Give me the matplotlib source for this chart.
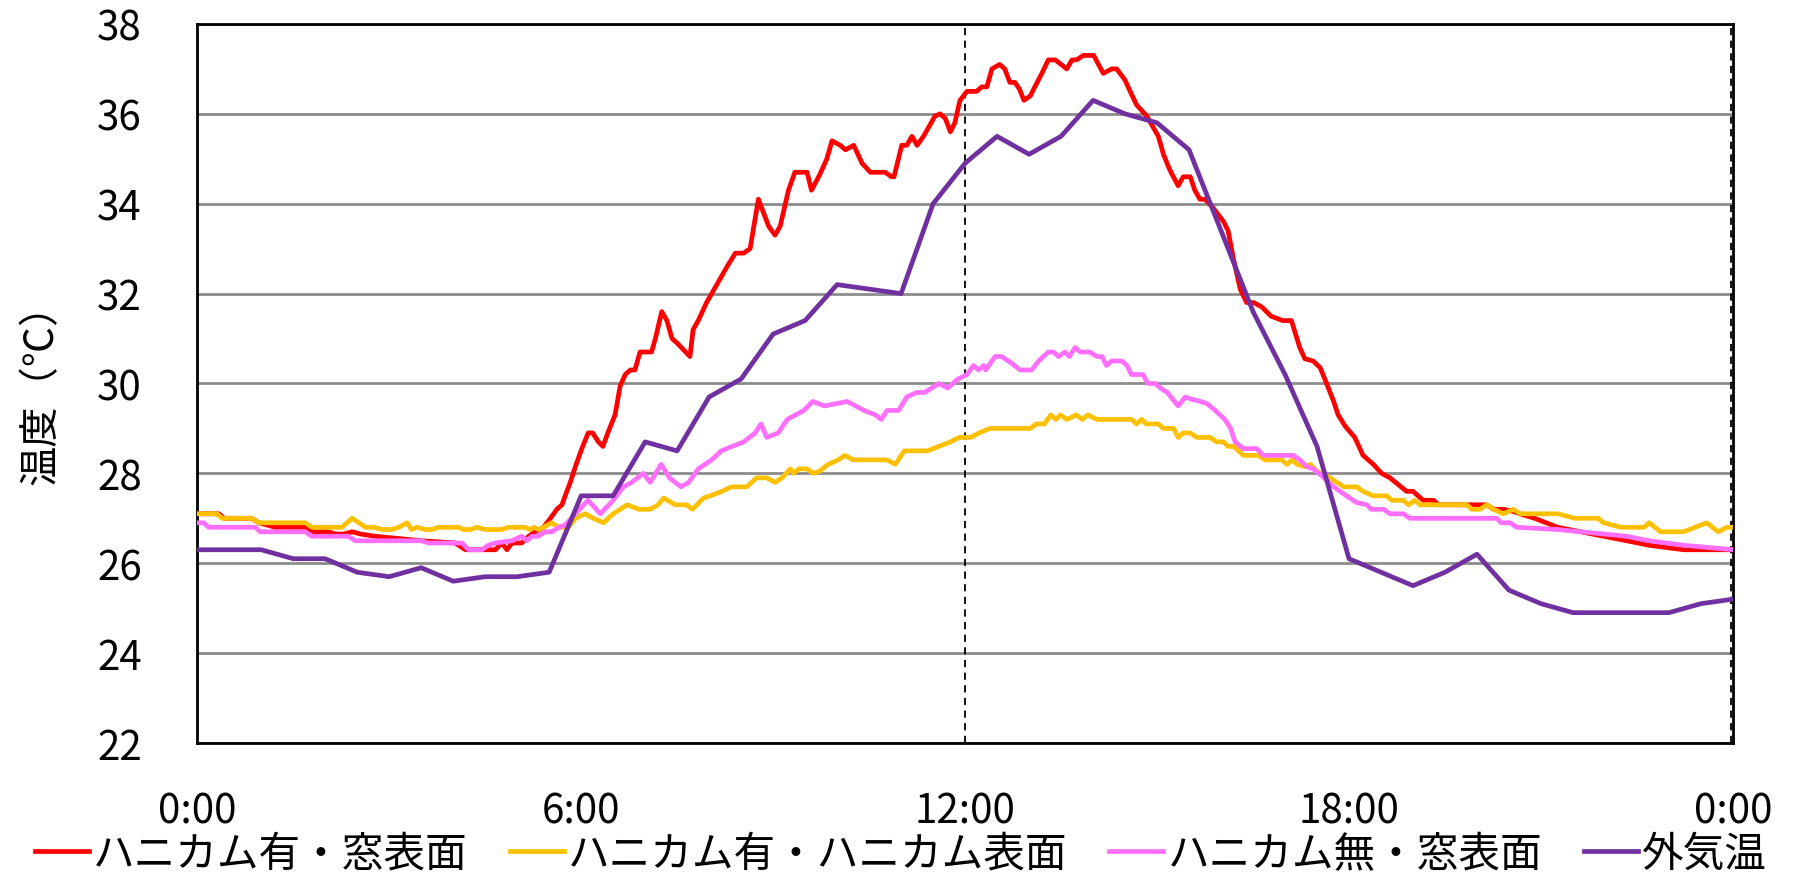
import matplotlib
matplotlib.use("Agg")
import matplotlib.pyplot as plt

plt.rcParams['font.family'] = ['Noto Sans CJK JP', 'DejaVu Sans']

# 時刻 (h) と温度 (℃)
red_t = [0.0, 0.34, 0.42, 0.85, 0.96, 1.22, 1.69, 1.82, 2.05, 2.16,
         2.29, 2.42, 2.55, 2.78, 3.51, 4.03, 4.19, 4.66, 4.76, 4.84,
         4.92, 5.07, 5.18, 5.28, 5.41, 5.52, 5.62, 5.70, 5.75, 5.83,
         5.91, 6.01, 6.11, 6.18, 6.27, 6.34, 6.43, 6.53, 6.61, 6.69,
         6.77, 6.84, 6.92, 7.10, 7.16, 7.26, 7.34, 7.42, 7.50, 7.70,
         7.75, 7.83, 7.96, 8.12, 8.28, 8.41, 8.54, 8.64, 8.77, 8.93,
         9.03, 9.11, 9.24, 9.34, 9.53, 9.60, 9.73, 9.84, 9.92, 10.05,
         10.13, 10.26, 10.39, 10.52, 10.75, 10.85, 10.89, 11.01, 11.09, 11.17,
         11.25, 11.35, 11.53, 11.61, 11.69, 11.77, 11.84, 11.92, 12.03, 12.18,
         12.26, 12.34, 12.42, 12.54, 12.62, 12.70, 12.78, 12.85, 12.92, 13.02,
         13.09, 13.20, 13.30, 13.41, 13.59, 13.67, 13.74, 13.85, 14.01, 14.16,
         14.29, 14.37, 14.50, 14.58, 14.68, 14.84, 14.92, 15.02, 15.10, 15.20,
         15.33, 15.41, 15.52, 15.59, 15.67, 15.75, 15.88, 16.04, 16.11, 16.19,
         16.30, 16.40, 16.51, 16.64, 16.78, 16.96, 17.10, 17.23, 17.31, 17.44,
         17.55, 17.65, 17.76, 17.83, 17.94, 18.09, 18.22, 18.38, 18.51, 18.64,
         18.77, 18.90, 19.00, 19.16, 19.32, 19.40, 20.15, 20.26, 20.42, 20.57,
         20.67, 20.90, 21.26, 21.62, 21.98, 22.34, 22.69, 23.23, 24.0]
red_v = [27.1, 27.1, 27.0, 27.0, 26.9, 26.8, 26.8, 26.7, 26.7, 26.65,
         26.65, 26.7, 26.65, 26.6, 26.5, 26.45, 26.3, 26.3, 26.45, 26.3,
         26.45, 26.45, 26.6, 26.7, 26.8, 27.0, 27.2, 27.3, 27.5, 27.8,
         28.15, 28.55, 28.9, 28.9, 28.7, 28.6, 28.95, 29.3, 29.95, 30.2,
         30.3, 30.3, 30.7, 30.7, 31.0, 31.6, 31.4, 31.0, 30.9, 30.6,
         31.2, 31.4, 31.8, 32.2, 32.6, 32.9, 32.9, 33.0, 34.1, 33.5,
         33.3, 33.5, 34.3, 34.7, 34.7, 34.3, 34.65, 35.0, 35.4, 35.3,
         35.2, 35.3, 34.9, 34.7, 34.7, 34.6, 34.6, 35.3, 35.3, 35.5,
         35.3, 35.5, 35.95, 36.0, 35.9, 35.6, 35.8, 36.3, 36.5, 36.5,
         36.6, 36.6, 37.0, 37.1, 37.0, 36.7, 36.7, 36.55, 36.3, 36.4,
         36.6, 36.9, 37.2, 37.2, 37.0, 37.2, 37.2, 37.3, 37.3, 36.9,
         37.0, 37.0, 36.75, 36.5, 36.2, 35.95, 35.75, 35.5, 35.1, 34.75,
         34.4, 34.6, 34.6, 34.3, 34.1, 34.1, 33.9, 33.6, 33.4, 32.8,
         32.1, 31.8, 31.8, 31.7, 31.5, 31.4, 31.4, 30.8, 30.55, 30.5,
         30.35, 30.0, 29.6, 29.3, 29.05, 28.8, 28.4, 28.2, 28.0, 27.9,
         27.75, 27.6, 27.6, 27.4, 27.4, 27.3, 27.3, 27.2, 27.2, 27.15,
         27.1, 27.0, 26.8, 26.7, 26.6, 26.5, 26.4, 26.3, 26.3]

yel_t = [0.0, 0.31, 0.39, 0.85, 0.96, 1.69, 1.79, 2.26, 2.42, 2.63,
         2.76, 2.89, 3.04, 3.15, 3.28, 3.35, 3.43, 3.56, 3.67, 3.77,
         4.08, 4.16, 4.27, 4.37, 4.50, 4.76, 4.86, 5.12, 5.20, 5.26,
         5.33, 5.41, 5.54, 5.65, 5.80, 5.91, 6.06, 6.19, 6.35, 6.50,
         6.72, 6.90, 7.08, 7.20, 7.29, 7.47, 7.65, 7.74, 7.91, 8.02,
         8.20, 8.35, 8.59, 8.74, 8.90, 9.03, 9.14, 9.27, 9.32, 9.40,
         9.53, 9.63, 9.73, 9.86, 10.02, 10.12, 10.25, 10.78, 10.91, 11.05,
         11.41, 11.59, 11.77, 11.91, 12.09, 12.22, 12.39, 13.02, 13.11, 13.24,
         13.34, 13.42, 13.49, 13.59, 13.74, 13.83, 13.92, 14.06, 14.60, 14.68,
         14.76, 14.83, 15.02, 15.10, 15.26, 15.33, 15.41, 15.52, 15.62, 15.83,
         15.93, 16.04, 16.11, 16.20, 16.35, 16.58, 16.69, 16.95, 17.03, 17.11,
         17.19, 17.31, 17.40, 17.49, 17.65, 17.81, 17.92, 18.12, 18.22, 18.38,
         18.59, 18.67, 18.85, 18.93, 19.03, 19.11, 19.84, 19.92, 20.05, 20.15,
         20.26, 20.41, 20.57, 20.67, 20.99, 21.26, 21.53, 21.89, 21.98, 22.25,
         22.61, 22.69, 22.87, 23.23, 23.41, 23.59, 23.77, 23.90, 24.0]
yel_v = [27.1, 27.1, 27.0, 27.0, 26.9, 26.9, 26.8, 26.8, 27.0, 26.8,
         26.8, 26.75, 26.75, 26.8, 26.9, 26.75, 26.8, 26.75, 26.75, 26.8,
         26.8, 26.75, 26.75, 26.8, 26.75, 26.75, 26.8, 26.8, 26.75, 26.8,
         26.75, 26.8, 26.9, 26.8, 26.8, 27.0, 27.1, 27.0, 26.9, 27.1,
         27.3, 27.2, 27.2, 27.3, 27.45, 27.3, 27.3, 27.2, 27.45, 27.5,
         27.6, 27.7, 27.7, 27.9, 27.9, 27.8, 27.9, 28.1, 28.0, 28.1,
         28.1, 28.0, 28.05, 28.2, 28.3, 28.4, 28.3, 28.3, 28.2, 28.5,
         28.5, 28.6, 28.7, 28.8, 28.8, 28.9, 29.0, 29.0, 29.1, 29.1,
         29.3, 29.2, 29.3, 29.2, 29.3, 29.2, 29.3, 29.2, 29.2, 29.1,
         29.2, 29.1, 29.1, 29.0, 29.0, 28.8, 28.9, 28.9, 28.8, 28.8,
         28.7, 28.7, 28.6, 28.6, 28.4, 28.4, 28.3, 28.3, 28.2, 28.3,
         28.2, 28.15, 28.2, 28.05, 27.95, 27.8, 27.7, 27.7, 27.6, 27.5,
         27.5, 27.4, 27.4, 27.3, 27.4, 27.3, 27.3, 27.2, 27.2, 27.3,
         27.2, 27.1, 27.2, 27.1, 27.1, 27.1, 27.0, 27.0, 26.9, 26.8,
         26.8, 26.9, 26.7, 26.7, 26.8, 26.9, 26.7, 26.8, 26.8]

pink_t = [0.0, 0.10, 0.18, 0.91, 0.98, 1.69, 1.79, 2.36, 2.47, 3.51,
          3.61, 4.14, 4.24, 4.45, 4.55, 4.66, 4.92, 5.07, 5.15, 5.23,
          5.33, 5.44, 5.54, 5.65, 5.75, 5.91, 6.04, 6.11, 6.30, 6.50,
          6.66, 6.79, 6.97, 7.08, 7.25, 7.38, 7.56, 7.68, 7.83, 8.04,
          8.19, 8.36, 8.54, 8.72, 8.81, 8.90, 9.08, 9.22, 9.35, 9.48,
          9.62, 9.80, 10.16, 10.42, 10.60, 10.69, 10.78, 10.96, 11.09, 11.24,
          11.37, 11.59, 11.73, 11.89, 12.03, 12.13, 12.21, 12.29, 12.32, 12.47,
          12.57, 12.73, 12.86, 13.04, 13.15, 13.30, 13.38, 13.46, 13.56, 13.63,
          13.72, 13.80, 13.95, 14.06, 14.14, 14.21, 14.29, 14.45, 14.53, 14.60,
          14.78, 14.86, 14.97, 15.05, 15.16, 15.33, 15.44, 15.54, 15.68, 15.78,
          15.91, 16.06, 16.15, 16.22, 16.35, 16.56, 16.66, 17.13, 17.23, 17.34,
          17.44, 17.57, 17.76, 17.96, 18.12, 18.28, 18.35, 18.54, 18.64, 18.85,
          18.95, 20.31, 20.38, 20.52, 20.62, 21.26, 21.62, 22.34, 22.69, 23.23,
          24.0]
pink_v = [26.9, 26.9, 26.8, 26.8, 26.7, 26.7, 26.6, 26.6, 26.5, 26.5,
          26.45, 26.45, 26.3, 26.3, 26.4, 26.45, 26.5, 26.6, 26.5, 26.6,
          26.6, 26.7, 26.7, 26.8, 26.85, 27.1, 27.3, 27.4, 27.1, 27.4,
          27.7, 27.8, 28.0, 27.8, 28.2, 27.9, 27.7, 27.8, 28.1, 28.3,
          28.5, 28.6, 28.7, 28.9, 29.1, 28.8, 28.9, 29.2, 29.3, 29.4,
          29.6, 29.5, 29.6, 29.4, 29.3, 29.2, 29.4, 29.4, 29.7, 29.8,
          29.8, 30.0, 29.9, 30.1, 30.2, 30.4, 30.3, 30.4, 30.3, 30.6,
          30.6, 30.45, 30.3, 30.3, 30.5, 30.7, 30.7, 30.6, 30.7, 30.6,
          30.8, 30.7, 30.7, 30.6, 30.6, 30.4, 30.5, 30.5, 30.4, 30.2,
          30.2, 30.0, 30.0, 29.9, 29.8, 29.5, 29.7, 29.65, 29.6, 29.55,
          29.4, 29.2, 29.0, 28.7, 28.55, 28.55, 28.4, 28.4, 28.3, 28.15,
          28.1, 27.95, 27.7, 27.5, 27.35, 27.3, 27.2, 27.2, 27.1, 27.1,
          27.0, 27.0, 26.9, 26.9, 26.8, 26.75, 26.7, 26.6, 26.5, 26.4,
          26.3]

out_t = [0.0, 0.5, 1.0, 1.5, 2.0, 2.5, 3.0, 3.5, 4.0, 4.5,
         5.0, 5.5, 6.0, 6.5, 7.0, 7.5, 8.0, 8.5, 9.0, 9.5,
         10.0, 10.5, 11.0, 11.5, 12.0, 12.5, 13.0, 13.5, 14.0, 14.5,
         15.0, 15.5, 16.0, 16.5, 17.0, 17.5, 18.0, 18.5, 19.0, 19.5,
         20.0, 20.5, 21.0, 21.5, 22.0, 22.5, 23.0, 23.5, 24.0]
out_v = [26.3, 26.3, 26.3, 26.1, 26.1, 25.8, 25.7, 25.9, 25.6, 25.7,
         25.7, 25.8, 27.5, 27.5, 28.7, 28.5, 29.7, 30.1, 31.1, 31.4,
         32.2, 32.1, 32.0, 34.0, 34.9, 35.5, 35.1, 35.5, 36.3, 36.0,
         35.8, 35.2, 33.4, 31.6, 30.2, 28.6, 26.1, 25.8, 25.5, 25.8,
         26.2, 25.4, 25.1, 24.9, 24.9, 24.9, 24.9, 25.1, 25.2]

labels = ["ハニカム有・窓表面", "ハニカム有・ハニカム表面", "ハニカム無・窓表面", "外気温"]
colors = ["#FF0000", "#FFC000", "#FF6FFF", "#7030A0"]
xticks = [0, 6, 12, 18, 24]
xticklabels = ["0:00", "6:00", "12:00", "18:00", "0:00"]
yticks = [22, 24, 26, 28, 30, 32, 34, 36, 38]

fig = plt.figure(figsize=(17.93, 8.79), dpi=100)
ax = fig.add_axes([0.110, 0.1536, 0.8565, 0.818])

series = [(red_t, red_v), (yel_t, yel_v), (pink_t, pink_v), (out_t, out_v)]
for (t, v), lab, c in zip(series, labels, colors):
    ax.plot(t, v, color=c, lw=3.4, label=lab, solid_joinstyle='round', zorder=3)

ax.set_xlim(0, 24)
ax.set_ylim(22, 38)
ax.set_xticks(xticks)
ax.set_xticklabels(xticklabels)
ax.set_yticks(yticks)
ax.tick_params(axis='both', length=0, labelsize=29)
ax.tick_params(axis='y', pad=40)
ax.tick_params(axis='x', pad=34)
ax.yaxis.grid(True, color='#8c8c8c', lw=2)
ax.set_axisbelow(True)
for s in ax.spines.values():
    s.set_color('black')
    s.set_linewidth(2)

# 12:00 と 0:00 の破線
ax.axvline(12, color='black', ls=(0, (4, 3)), lw=1.3, zorder=2)
ax.axvline(23.97, color='black', ls=(0, (4, 3)), lw=1.3, zorder=2)

ax.set_ylabel("温度（℃）", fontsize=29)
ax.yaxis.set_label_coords(-0.088, 0.5)

fig.legend(loc='center', bbox_to_anchor=(0.5025, 0.027), ncol=4, frameon=False,
           fontsize=30, handlelength=1.3, handletextpad=0.1, columnspacing=1.0)

fig.savefig("out.png", dpi=100)
